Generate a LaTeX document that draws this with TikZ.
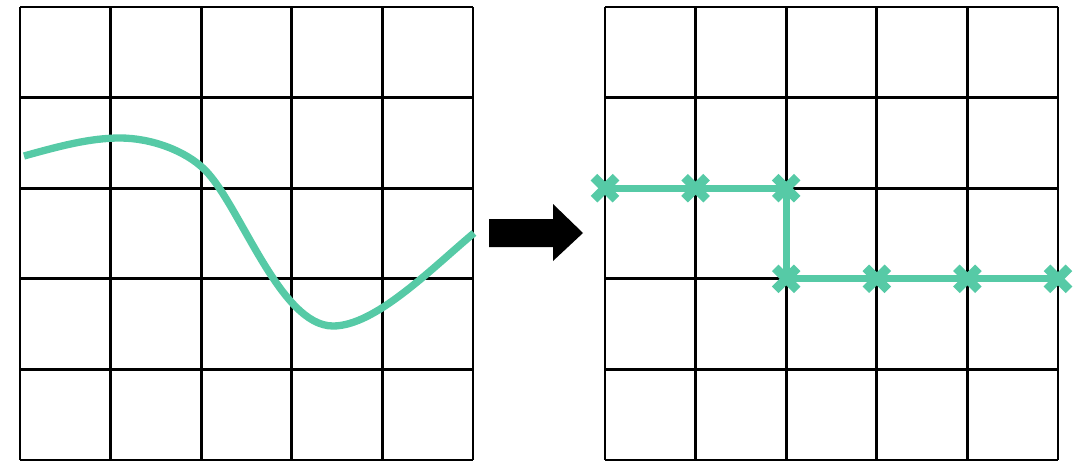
\documentclass[tikz,border=0pt]{standalone}
\usepackage{tikz}
\usetikzlibrary{arrows.meta, calc}

\definecolor{mint}{RGB}{86,202,166}

\begin{document}
\begin{tikzpicture}[x=0.025cm, y=-0.025cm,
    gridline/.style={line width=2.1pt, black},
    trace/.style={line width=5.2pt, mint},
    cross/.style={line width=6.6pt, mint}]
\useasboundingbox (0,0) rectangle (1081,461);
% two 5x5 grids, cell = 90.6 px
\foreach \ox in {20, 605} {
    \foreach \k in {0,...,5} {
        \draw[gridline] (\ox+\k*90.6, 7) -- (\ox+\k*90.6, 460);
        \draw[gridline] (\ox, 7+\k*90.6) -- (\ox+453, 7+\k*90.6);
    }
}
% left: the continuous curve
\draw[trace] (24,156) .. controls (60,146) and (90,138) .. (120,138)
    .. controls (150,138) and (185,150) .. (205,170)
    .. controls (240,205) and (280,326) .. (333,326)
    .. controls (375,326) and (430,270) .. (474,233);
% the block arrow between the grids
\fill[black] (489,219) -- (553,219) -- (553,204) -- (583,233) -- (553,261) -- (553,247) -- (489,247) -- cycle;
% right: the curve snapped to grid points
\coordinate (p1) at (605,188.2);
\coordinate (p2) at (695.6,188.2);
\coordinate (p3) at (786.2,188.2);
\coordinate (p4) at (786.2,278.8);
\coordinate (p5) at (876.8,278.8);
\coordinate (p6) at (967.4,278.8);
\coordinate (p7) at (1058,278.8);
\draw[trace] (p1) -- (p2) -- (p3) -- (p4) -- (p5) -- (p6) -- (p7);
\foreach \p in {p1,p2,p3,p4,p5,p6,p7} {
    \draw[cross] ($(\p)+(-11,-11)$) -- ($(\p)+(11,11)$);
    \draw[cross] ($(\p)+(-11,11)$) -- ($(\p)+(11,-11)$);
}
\end{tikzpicture}
\end{document}
